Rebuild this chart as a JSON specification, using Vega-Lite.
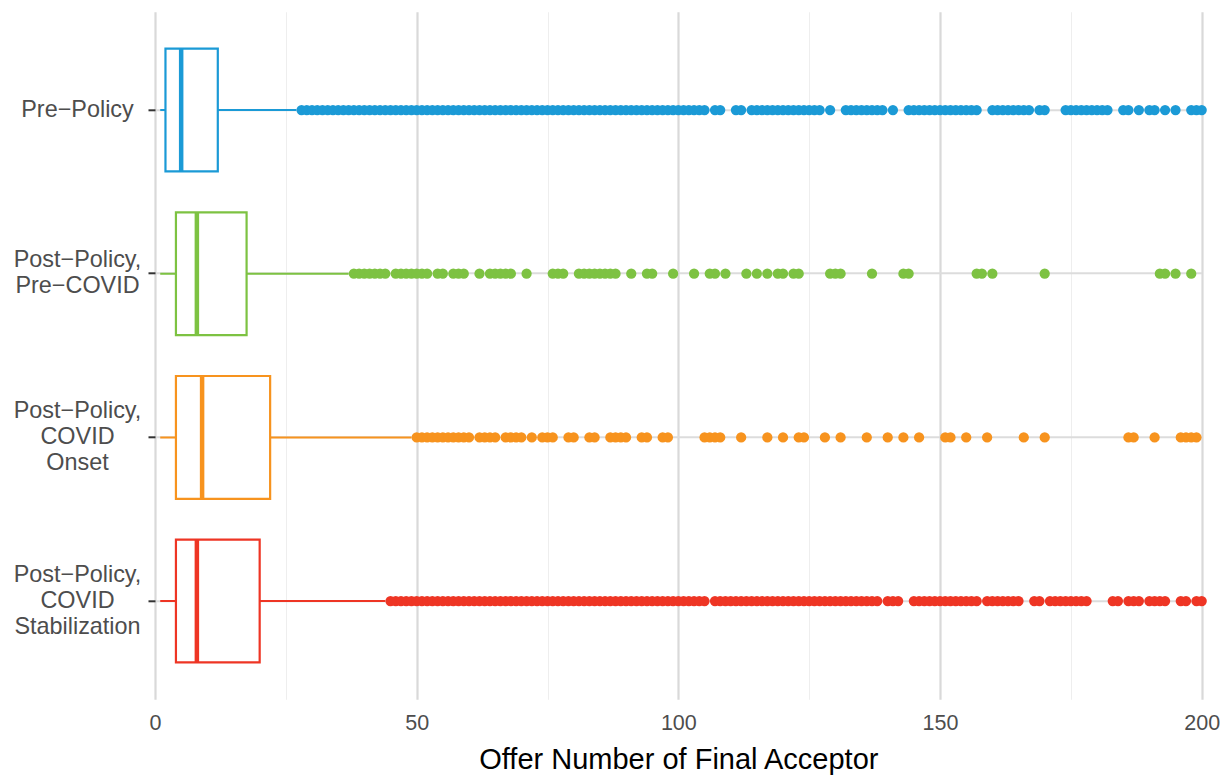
{
  "$schema": "https://vega.github.io/schema/vega-lite/v6.json",
  "width": 1046.7,
  "height": 687.5,
  "autosize": {"type": "none"},
  "padding": {"left": 155, "top": 11.8, "right": 20.3, "bottom": 76.7},
  "background": "white",
  "config": {"view": {"stroke": null}, "font": "Liberation Sans"},
  "datasets": {
    "boxes": [
      {"group": "Pre−Policy", "lower": 1, "q1": 2, "median": 5, "q3": 12, "upper": 27},
      {"group": "Post−Policy, Pre−COVID", "lower": 1, "q1": 4, "median": 8, "q3": 17.5, "upper": 37},
      {"group": "Post−Policy, COVID Onset", "lower": 1, "q1": 4, "median": 9, "q3": 22, "upper": 49},
      {"group": "Post−Policy, COVID Stabilization", "lower": 1, "q1": 4, "median": 8, "q3": 20, "upper": 44}
    ],
    "outliers": [
      {"group":"Pre−Policy","offer":28},{"group":"Pre−Policy","offer":29},{"group":"Pre−Policy","offer":30},{"group":"Pre−Policy","offer":31},{"group":"Pre−Policy","offer":32},{"group":"Pre−Policy","offer":33},{"group":"Pre−Policy","offer":34},{"group":"Pre−Policy","offer":35},{"group":"Pre−Policy","offer":36},{"group":"Pre−Policy","offer":37},{"group":"Pre−Policy","offer":38},{"group":"Pre−Policy","offer":39},{"group":"Pre−Policy","offer":40},{"group":"Pre−Policy","offer":41},{"group":"Pre−Policy","offer":42},{"group":"Pre−Policy","offer":43},{"group":"Pre−Policy","offer":44},{"group":"Pre−Policy","offer":45},{"group":"Pre−Policy","offer":46},{"group":"Pre−Policy","offer":47},{"group":"Pre−Policy","offer":48},{"group":"Pre−Policy","offer":49},{"group":"Pre−Policy","offer":50},{"group":"Pre−Policy","offer":51},{"group":"Pre−Policy","offer":52},{"group":"Pre−Policy","offer":53},{"group":"Pre−Policy","offer":54},{"group":"Pre−Policy","offer":55},{"group":"Pre−Policy","offer":56},{"group":"Pre−Policy","offer":57},{"group":"Pre−Policy","offer":58},{"group":"Pre−Policy","offer":59},{"group":"Pre−Policy","offer":60},{"group":"Pre−Policy","offer":61},{"group":"Pre−Policy","offer":62},{"group":"Pre−Policy","offer":63},{"group":"Pre−Policy","offer":64},{"group":"Pre−Policy","offer":65},{"group":"Pre−Policy","offer":66},{"group":"Pre−Policy","offer":67},{"group":"Pre−Policy","offer":68},{"group":"Pre−Policy","offer":69},{"group":"Pre−Policy","offer":70},{"group":"Pre−Policy","offer":71},{"group":"Pre−Policy","offer":72},{"group":"Pre−Policy","offer":73},{"group":"Pre−Policy","offer":74},{"group":"Pre−Policy","offer":75},{"group":"Pre−Policy","offer":76},{"group":"Pre−Policy","offer":77},{"group":"Pre−Policy","offer":78},{"group":"Pre−Policy","offer":79},{"group":"Pre−Policy","offer":80},{"group":"Pre−Policy","offer":81},{"group":"Pre−Policy","offer":82},{"group":"Pre−Policy","offer":83},{"group":"Pre−Policy","offer":84},{"group":"Pre−Policy","offer":85},{"group":"Pre−Policy","offer":86},{"group":"Pre−Policy","offer":87},{"group":"Pre−Policy","offer":88},{"group":"Pre−Policy","offer":89},{"group":"Pre−Policy","offer":90},{"group":"Pre−Policy","offer":91},{"group":"Pre−Policy","offer":92},{"group":"Pre−Policy","offer":93},{"group":"Pre−Policy","offer":94},{"group":"Pre−Policy","offer":95},{"group":"Pre−Policy","offer":96},{"group":"Pre−Policy","offer":97},{"group":"Pre−Policy","offer":98},{"group":"Pre−Policy","offer":99},{"group":"Pre−Policy","offer":100},{"group":"Pre−Policy","offer":101},{"group":"Pre−Policy","offer":102},{"group":"Pre−Policy","offer":103},{"group":"Pre−Policy","offer":104},{"group":"Pre−Policy","offer":105},{"group":"Pre−Policy","offer":107},{"group":"Pre−Policy","offer":108},{"group":"Pre−Policy","offer":111},{"group":"Pre−Policy","offer":112},{"group":"Pre−Policy","offer":114},{"group":"Pre−Policy","offer":115},{"group":"Pre−Policy","offer":116},{"group":"Pre−Policy","offer":117},{"group":"Pre−Policy","offer":118},{"group":"Pre−Policy","offer":119},{"group":"Pre−Policy","offer":120},{"group":"Pre−Policy","offer":121},{"group":"Pre−Policy","offer":122},{"group":"Pre−Policy","offer":123},{"group":"Pre−Policy","offer":124},{"group":"Pre−Policy","offer":125},{"group":"Pre−Policy","offer":126},{"group":"Pre−Policy","offer":127},{"group":"Pre−Policy","offer":129},{"group":"Pre−Policy","offer":132},{"group":"Pre−Policy","offer":133},{"group":"Pre−Policy","offer":134},{"group":"Pre−Policy","offer":135},{"group":"Pre−Policy","offer":136},{"group":"Pre−Policy","offer":137},{"group":"Pre−Policy","offer":138},{"group":"Pre−Policy","offer":139},{"group":"Pre−Policy","offer":141},{"group":"Pre−Policy","offer":144},{"group":"Pre−Policy","offer":145},{"group":"Pre−Policy","offer":146},{"group":"Pre−Policy","offer":147},{"group":"Pre−Policy","offer":148},{"group":"Pre−Policy","offer":149},{"group":"Pre−Policy","offer":150},{"group":"Pre−Policy","offer":151},{"group":"Pre−Policy","offer":152},{"group":"Pre−Policy","offer":153},{"group":"Pre−Policy","offer":154},{"group":"Pre−Policy","offer":155},{"group":"Pre−Policy","offer":156},{"group":"Pre−Policy","offer":157},{"group":"Pre−Policy","offer":160},{"group":"Pre−Policy","offer":161},{"group":"Pre−Policy","offer":162},{"group":"Pre−Policy","offer":163},{"group":"Pre−Policy","offer":164},{"group":"Pre−Policy","offer":165},{"group":"Pre−Policy","offer":166},{"group":"Pre−Policy","offer":167},{"group":"Pre−Policy","offer":169},{"group":"Pre−Policy","offer":170},{"group":"Pre−Policy","offer":174},{"group":"Pre−Policy","offer":175},{"group":"Pre−Policy","offer":176},{"group":"Pre−Policy","offer":177},{"group":"Pre−Policy","offer":178},{"group":"Pre−Policy","offer":179},{"group":"Pre−Policy","offer":180},{"group":"Pre−Policy","offer":181},{"group":"Pre−Policy","offer":182},{"group":"Pre−Policy","offer":185},{"group":"Pre−Policy","offer":186},{"group":"Pre−Policy","offer":188},{"group":"Pre−Policy","offer":190},{"group":"Pre−Policy","offer":191},{"group":"Pre−Policy","offer":193},{"group":"Pre−Policy","offer":195},{"group":"Pre−Policy","offer":198},{"group":"Pre−Policy","offer":199},{"group":"Pre−Policy","offer":200},
      {"group":"Post−Policy, Pre−COVID","offer":38},{"group":"Post−Policy, Pre−COVID","offer":39},{"group":"Post−Policy, Pre−COVID","offer":40},{"group":"Post−Policy, Pre−COVID","offer":41},{"group":"Post−Policy, Pre−COVID","offer":42},{"group":"Post−Policy, Pre−COVID","offer":43},{"group":"Post−Policy, Pre−COVID","offer":44},{"group":"Post−Policy, Pre−COVID","offer":46},{"group":"Post−Policy, Pre−COVID","offer":47},{"group":"Post−Policy, Pre−COVID","offer":48},{"group":"Post−Policy, Pre−COVID","offer":49},{"group":"Post−Policy, Pre−COVID","offer":50},{"group":"Post−Policy, Pre−COVID","offer":51},{"group":"Post−Policy, Pre−COVID","offer":52},{"group":"Post−Policy, Pre−COVID","offer":54},{"group":"Post−Policy, Pre−COVID","offer":55},{"group":"Post−Policy, Pre−COVID","offer":57},{"group":"Post−Policy, Pre−COVID","offer":58},{"group":"Post−Policy, Pre−COVID","offer":59},{"group":"Post−Policy, Pre−COVID","offer":62},{"group":"Post−Policy, Pre−COVID","offer":64},{"group":"Post−Policy, Pre−COVID","offer":65},{"group":"Post−Policy, Pre−COVID","offer":66},{"group":"Post−Policy, Pre−COVID","offer":67},{"group":"Post−Policy, Pre−COVID","offer":68},{"group":"Post−Policy, Pre−COVID","offer":71},{"group":"Post−Policy, Pre−COVID","offer":76},{"group":"Post−Policy, Pre−COVID","offer":77},{"group":"Post−Policy, Pre−COVID","offer":78},{"group":"Post−Policy, Pre−COVID","offer":81},{"group":"Post−Policy, Pre−COVID","offer":82},{"group":"Post−Policy, Pre−COVID","offer":83},{"group":"Post−Policy, Pre−COVID","offer":84},{"group":"Post−Policy, Pre−COVID","offer":85},{"group":"Post−Policy, Pre−COVID","offer":86},{"group":"Post−Policy, Pre−COVID","offer":87},{"group":"Post−Policy, Pre−COVID","offer":88},{"group":"Post−Policy, Pre−COVID","offer":91},{"group":"Post−Policy, Pre−COVID","offer":94},{"group":"Post−Policy, Pre−COVID","offer":95},{"group":"Post−Policy, Pre−COVID","offer":99},{"group":"Post−Policy, Pre−COVID","offer":103},{"group":"Post−Policy, Pre−COVID","offer":106},{"group":"Post−Policy, Pre−COVID","offer":107},{"group":"Post−Policy, Pre−COVID","offer":109},{"group":"Post−Policy, Pre−COVID","offer":113},{"group":"Post−Policy, Pre−COVID","offer":115},{"group":"Post−Policy, Pre−COVID","offer":117},{"group":"Post−Policy, Pre−COVID","offer":119},{"group":"Post−Policy, Pre−COVID","offer":120},{"group":"Post−Policy, Pre−COVID","offer":122},{"group":"Post−Policy, Pre−COVID","offer":123},{"group":"Post−Policy, Pre−COVID","offer":129},{"group":"Post−Policy, Pre−COVID","offer":130},{"group":"Post−Policy, Pre−COVID","offer":131},{"group":"Post−Policy, Pre−COVID","offer":137},{"group":"Post−Policy, Pre−COVID","offer":143},{"group":"Post−Policy, Pre−COVID","offer":144},{"group":"Post−Policy, Pre−COVID","offer":157},{"group":"Post−Policy, Pre−COVID","offer":158},{"group":"Post−Policy, Pre−COVID","offer":160},{"group":"Post−Policy, Pre−COVID","offer":170},{"group":"Post−Policy, Pre−COVID","offer":192},{"group":"Post−Policy, Pre−COVID","offer":193},{"group":"Post−Policy, Pre−COVID","offer":195},{"group":"Post−Policy, Pre−COVID","offer":198},
      {"group":"Post−Policy, COVID Onset","offer":50},{"group":"Post−Policy, COVID Onset","offer":51},{"group":"Post−Policy, COVID Onset","offer":52},{"group":"Post−Policy, COVID Onset","offer":53},{"group":"Post−Policy, COVID Onset","offer":54},{"group":"Post−Policy, COVID Onset","offer":55},{"group":"Post−Policy, COVID Onset","offer":56},{"group":"Post−Policy, COVID Onset","offer":57},{"group":"Post−Policy, COVID Onset","offer":58},{"group":"Post−Policy, COVID Onset","offer":59},{"group":"Post−Policy, COVID Onset","offer":60},{"group":"Post−Policy, COVID Onset","offer":62},{"group":"Post−Policy, COVID Onset","offer":63},{"group":"Post−Policy, COVID Onset","offer":64},{"group":"Post−Policy, COVID Onset","offer":65},{"group":"Post−Policy, COVID Onset","offer":67},{"group":"Post−Policy, COVID Onset","offer":68},{"group":"Post−Policy, COVID Onset","offer":69},{"group":"Post−Policy, COVID Onset","offer":70},{"group":"Post−Policy, COVID Onset","offer":72},{"group":"Post−Policy, COVID Onset","offer":74},{"group":"Post−Policy, COVID Onset","offer":75},{"group":"Post−Policy, COVID Onset","offer":76},{"group":"Post−Policy, COVID Onset","offer":79},{"group":"Post−Policy, COVID Onset","offer":80},{"group":"Post−Policy, COVID Onset","offer":83},{"group":"Post−Policy, COVID Onset","offer":84},{"group":"Post−Policy, COVID Onset","offer":87},{"group":"Post−Policy, COVID Onset","offer":88},{"group":"Post−Policy, COVID Onset","offer":89},{"group":"Post−Policy, COVID Onset","offer":90},{"group":"Post−Policy, COVID Onset","offer":93},{"group":"Post−Policy, COVID Onset","offer":94},{"group":"Post−Policy, COVID Onset","offer":97},{"group":"Post−Policy, COVID Onset","offer":98},{"group":"Post−Policy, COVID Onset","offer":105},{"group":"Post−Policy, COVID Onset","offer":106},{"group":"Post−Policy, COVID Onset","offer":107},{"group":"Post−Policy, COVID Onset","offer":108},{"group":"Post−Policy, COVID Onset","offer":112},{"group":"Post−Policy, COVID Onset","offer":117},{"group":"Post−Policy, COVID Onset","offer":120},{"group":"Post−Policy, COVID Onset","offer":123},{"group":"Post−Policy, COVID Onset","offer":124},{"group":"Post−Policy, COVID Onset","offer":128},{"group":"Post−Policy, COVID Onset","offer":131},{"group":"Post−Policy, COVID Onset","offer":136},{"group":"Post−Policy, COVID Onset","offer":140},{"group":"Post−Policy, COVID Onset","offer":143},{"group":"Post−Policy, COVID Onset","offer":146},{"group":"Post−Policy, COVID Onset","offer":151},{"group":"Post−Policy, COVID Onset","offer":152},{"group":"Post−Policy, COVID Onset","offer":155},{"group":"Post−Policy, COVID Onset","offer":159},{"group":"Post−Policy, COVID Onset","offer":166},{"group":"Post−Policy, COVID Onset","offer":170},{"group":"Post−Policy, COVID Onset","offer":186},{"group":"Post−Policy, COVID Onset","offer":187},{"group":"Post−Policy, COVID Onset","offer":191},{"group":"Post−Policy, COVID Onset","offer":196},{"group":"Post−Policy, COVID Onset","offer":197},{"group":"Post−Policy, COVID Onset","offer":198},{"group":"Post−Policy, COVID Onset","offer":199},
      {"group":"Post−Policy, COVID Stabilization","offer":45},{"group":"Post−Policy, COVID Stabilization","offer":46},{"group":"Post−Policy, COVID Stabilization","offer":47},{"group":"Post−Policy, COVID Stabilization","offer":48},{"group":"Post−Policy, COVID Stabilization","offer":49},{"group":"Post−Policy, COVID Stabilization","offer":50},{"group":"Post−Policy, COVID Stabilization","offer":51},{"group":"Post−Policy, COVID Stabilization","offer":52},{"group":"Post−Policy, COVID Stabilization","offer":53},{"group":"Post−Policy, COVID Stabilization","offer":54},{"group":"Post−Policy, COVID Stabilization","offer":55},{"group":"Post−Policy, COVID Stabilization","offer":56},{"group":"Post−Policy, COVID Stabilization","offer":57},{"group":"Post−Policy, COVID Stabilization","offer":58},{"group":"Post−Policy, COVID Stabilization","offer":59},{"group":"Post−Policy, COVID Stabilization","offer":60},{"group":"Post−Policy, COVID Stabilization","offer":61},{"group":"Post−Policy, COVID Stabilization","offer":62},{"group":"Post−Policy, COVID Stabilization","offer":63},{"group":"Post−Policy, COVID Stabilization","offer":64},{"group":"Post−Policy, COVID Stabilization","offer":65},{"group":"Post−Policy, COVID Stabilization","offer":66},{"group":"Post−Policy, COVID Stabilization","offer":67},{"group":"Post−Policy, COVID Stabilization","offer":68},{"group":"Post−Policy, COVID Stabilization","offer":69},{"group":"Post−Policy, COVID Stabilization","offer":70},{"group":"Post−Policy, COVID Stabilization","offer":71},{"group":"Post−Policy, COVID Stabilization","offer":72},{"group":"Post−Policy, COVID Stabilization","offer":73},{"group":"Post−Policy, COVID Stabilization","offer":74},{"group":"Post−Policy, COVID Stabilization","offer":75},{"group":"Post−Policy, COVID Stabilization","offer":76},{"group":"Post−Policy, COVID Stabilization","offer":77},{"group":"Post−Policy, COVID Stabilization","offer":78},{"group":"Post−Policy, COVID Stabilization","offer":79},{"group":"Post−Policy, COVID Stabilization","offer":80},{"group":"Post−Policy, COVID Stabilization","offer":81},{"group":"Post−Policy, COVID Stabilization","offer":82},{"group":"Post−Policy, COVID Stabilization","offer":83},{"group":"Post−Policy, COVID Stabilization","offer":84},{"group":"Post−Policy, COVID Stabilization","offer":85},{"group":"Post−Policy, COVID Stabilization","offer":86},{"group":"Post−Policy, COVID Stabilization","offer":87},{"group":"Post−Policy, COVID Stabilization","offer":88},{"group":"Post−Policy, COVID Stabilization","offer":89},{"group":"Post−Policy, COVID Stabilization","offer":90},{"group":"Post−Policy, COVID Stabilization","offer":91},{"group":"Post−Policy, COVID Stabilization","offer":92},{"group":"Post−Policy, COVID Stabilization","offer":93},{"group":"Post−Policy, COVID Stabilization","offer":94},{"group":"Post−Policy, COVID Stabilization","offer":95},{"group":"Post−Policy, COVID Stabilization","offer":96},{"group":"Post−Policy, COVID Stabilization","offer":97},{"group":"Post−Policy, COVID Stabilization","offer":98},{"group":"Post−Policy, COVID Stabilization","offer":99},{"group":"Post−Policy, COVID Stabilization","offer":100},{"group":"Post−Policy, COVID Stabilization","offer":101},{"group":"Post−Policy, COVID Stabilization","offer":102},{"group":"Post−Policy, COVID Stabilization","offer":103},{"group":"Post−Policy, COVID Stabilization","offer":104},{"group":"Post−Policy, COVID Stabilization","offer":105},{"group":"Post−Policy, COVID Stabilization","offer":107},{"group":"Post−Policy, COVID Stabilization","offer":108},{"group":"Post−Policy, COVID Stabilization","offer":109},{"group":"Post−Policy, COVID Stabilization","offer":110},{"group":"Post−Policy, COVID Stabilization","offer":111},{"group":"Post−Policy, COVID Stabilization","offer":112},{"group":"Post−Policy, COVID Stabilization","offer":113},{"group":"Post−Policy, COVID Stabilization","offer":114},{"group":"Post−Policy, COVID Stabilization","offer":115},{"group":"Post−Policy, COVID Stabilization","offer":116},{"group":"Post−Policy, COVID Stabilization","offer":117},{"group":"Post−Policy, COVID Stabilization","offer":118},{"group":"Post−Policy, COVID Stabilization","offer":119},{"group":"Post−Policy, COVID Stabilization","offer":120},{"group":"Post−Policy, COVID Stabilization","offer":121},{"group":"Post−Policy, COVID Stabilization","offer":122},{"group":"Post−Policy, COVID Stabilization","offer":123},{"group":"Post−Policy, COVID Stabilization","offer":124},{"group":"Post−Policy, COVID Stabilization","offer":125},{"group":"Post−Policy, COVID Stabilization","offer":126},{"group":"Post−Policy, COVID Stabilization","offer":127},{"group":"Post−Policy, COVID Stabilization","offer":128},{"group":"Post−Policy, COVID Stabilization","offer":129},{"group":"Post−Policy, COVID Stabilization","offer":130},{"group":"Post−Policy, COVID Stabilization","offer":131},{"group":"Post−Policy, COVID Stabilization","offer":132},{"group":"Post−Policy, COVID Stabilization","offer":133},{"group":"Post−Policy, COVID Stabilization","offer":134},{"group":"Post−Policy, COVID Stabilization","offer":135},{"group":"Post−Policy, COVID Stabilization","offer":136},{"group":"Post−Policy, COVID Stabilization","offer":137},{"group":"Post−Policy, COVID Stabilization","offer":138},{"group":"Post−Policy, COVID Stabilization","offer":140},{"group":"Post−Policy, COVID Stabilization","offer":141},{"group":"Post−Policy, COVID Stabilization","offer":142},{"group":"Post−Policy, COVID Stabilization","offer":145},{"group":"Post−Policy, COVID Stabilization","offer":146},{"group":"Post−Policy, COVID Stabilization","offer":147},{"group":"Post−Policy, COVID Stabilization","offer":148},{"group":"Post−Policy, COVID Stabilization","offer":149},{"group":"Post−Policy, COVID Stabilization","offer":150},{"group":"Post−Policy, COVID Stabilization","offer":151},{"group":"Post−Policy, COVID Stabilization","offer":152},{"group":"Post−Policy, COVID Stabilization","offer":153},{"group":"Post−Policy, COVID Stabilization","offer":154},{"group":"Post−Policy, COVID Stabilization","offer":155},{"group":"Post−Policy, COVID Stabilization","offer":156},{"group":"Post−Policy, COVID Stabilization","offer":157},{"group":"Post−Policy, COVID Stabilization","offer":159},{"group":"Post−Policy, COVID Stabilization","offer":160},{"group":"Post−Policy, COVID Stabilization","offer":161},{"group":"Post−Policy, COVID Stabilization","offer":162},{"group":"Post−Policy, COVID Stabilization","offer":163},{"group":"Post−Policy, COVID Stabilization","offer":164},{"group":"Post−Policy, COVID Stabilization","offer":165},{"group":"Post−Policy, COVID Stabilization","offer":168},{"group":"Post−Policy, COVID Stabilization","offer":169},{"group":"Post−Policy, COVID Stabilization","offer":171},{"group":"Post−Policy, COVID Stabilization","offer":172},{"group":"Post−Policy, COVID Stabilization","offer":173},{"group":"Post−Policy, COVID Stabilization","offer":174},{"group":"Post−Policy, COVID Stabilization","offer":175},{"group":"Post−Policy, COVID Stabilization","offer":176},{"group":"Post−Policy, COVID Stabilization","offer":177},{"group":"Post−Policy, COVID Stabilization","offer":178},{"group":"Post−Policy, COVID Stabilization","offer":183},{"group":"Post−Policy, COVID Stabilization","offer":184},{"group":"Post−Policy, COVID Stabilization","offer":186},{"group":"Post−Policy, COVID Stabilization","offer":187},{"group":"Post−Policy, COVID Stabilization","offer":188},{"group":"Post−Policy, COVID Stabilization","offer":190},{"group":"Post−Policy, COVID Stabilization","offer":191},{"group":"Post−Policy, COVID Stabilization","offer":192},{"group":"Post−Policy, COVID Stabilization","offer":193},{"group":"Post−Policy, COVID Stabilization","offer":196},{"group":"Post−Policy, COVID Stabilization","offer":197},{"group":"Post−Policy, COVID Stabilization","offer":199},{"group":"Post−Policy, COVID Stabilization","offer":200}
    ]
  },
  "layer": [
    {
      "data": {"name": "boxes"},
      "mark": {"type": "rule", "strokeWidth": 2},
      "encoding": {
        "x": {
          "field": "lower", "type": "quantitative",
          "scale": {"domain": [0, 200], "nice": false, "zero": false},
          "axis": {
            "title": "Offer Number of Final Acceptor",
            "titleFontSize": 29, "titleColor": "#000000", "titleFontWeight": "normal", "titlePadding": 12,
            "values": [0, 25, 50, 75, 100, 125, 150, 175, 200],
            "labelExpr": "datum.value % 50 === 0 ? datum.label : ''",
            "labelFontSize": 21.5, "labelColor": "#4D4D4D", "labelPadding": 13, "labelFlush": false,
            "ticks": false, "domain": false, "grid": true,
            "gridColor": {"condition": {"test": "datum.value % 50 === 0", "value": "#D9D9D9"}, "value": "#EEEEEE"},
            "gridWidth": {"condition": {"test": "datum.value % 50 === 0", "value": 2.2}, "value": 1.1}
          }
        },
        "x2": {"field": "upper"},
        "y": {
          "field": "group", "type": "nominal",
          "sort": ["Pre−Policy", "Post−Policy, Pre−COVID", "Post−Policy, COVID Onset", "Post−Policy, COVID Stabilization"],
          "scale": {"type": "band", "paddingInner": 0, "paddingOuter": 0.1},
          "axis": {
            "title": null, "domain": false, "ticks": true, "tickColor": "#333333", "tickSize": 7, "tickWidth": 2,
            "labelAlign": "center", "labelBaseline": "middle", "labelPadding": 71, "labelFontSize": 23.4,
            "labelColor": "#4D4D4D", "labelLineHeight": 26, "labelOverlap": false,
            "labelOffset": {"condition": [
              {"test": "indexof(datum.label, 'Pre−COVID') >= 0", "value": -14},
              {"test": "indexof(datum.label, 'COVID') >= 0", "value": -26}
            ], "value": 0},
            "labelExpr": "split(datum.label, ' ')",
            "grid": true, "gridColor": "#DCDCDC", "gridWidth": 2, "bandPosition": 0.5
          }
        },
        "color": {
          "field": "group", "type": "nominal",
          "scale": {"domain": ["Pre−Policy", "Post−Policy, Pre−COVID", "Post−Policy, COVID Onset", "Post−Policy, COVID Stabilization"], "range": ["#1B9AD6", "#7DC242", "#F7931E", "#EE3524"]},
          "legend": null
        }
      }
    },
    {
      "data": {"name": "boxes"},
      "mark": {"type": "bar", "fill": "white", "strokeWidth": 2.2, "height": {"band": 0.75}},
      "encoding": {
        "x": {"field": "q1", "type": "quantitative"},
        "x2": {"field": "q3"},
        "y": {"field": "group", "type": "nominal", "sort": ["Pre−Policy", "Post−Policy, Pre−COVID", "Post−Policy, COVID Onset", "Post−Policy, COVID Stabilization"]},
        "stroke": {
          "field": "group", "type": "nominal",
          "scale": {"domain": ["Pre−Policy", "Post−Policy, Pre−COVID", "Post−Policy, COVID Onset", "Post−Policy, COVID Stabilization"], "range": ["#1B9AD6", "#7DC242", "#F7931E", "#EE3524"]},
          "legend": null
        }
      }
    },
    {
      "data": {"name": "boxes"},
      "mark": {"type": "tick", "thickness": 4.5, "size": 123, "opacity": 1},
      "encoding": {
        "x": {"field": "median", "type": "quantitative"},
        "y": {"field": "group", "type": "nominal", "sort": ["Pre−Policy", "Post−Policy, Pre−COVID", "Post−Policy, COVID Onset", "Post−Policy, COVID Stabilization"]},
        "color": {"field": "group", "type": "nominal", "legend": null}
      }
    },
    {
      "data": {"name": "outliers"},
      "mark": {"type": "circle", "size": 105, "opacity": 1},
      "encoding": {
        "x": {"field": "offer", "type": "quantitative"},
        "y": {"field": "group", "type": "nominal", "sort": ["Pre−Policy", "Post−Policy, Pre−COVID", "Post−Policy, COVID Onset", "Post−Policy, COVID Stabilization"]},
        "color": {"field": "group", "type": "nominal", "legend": null}
      }
    }
  ]
}
